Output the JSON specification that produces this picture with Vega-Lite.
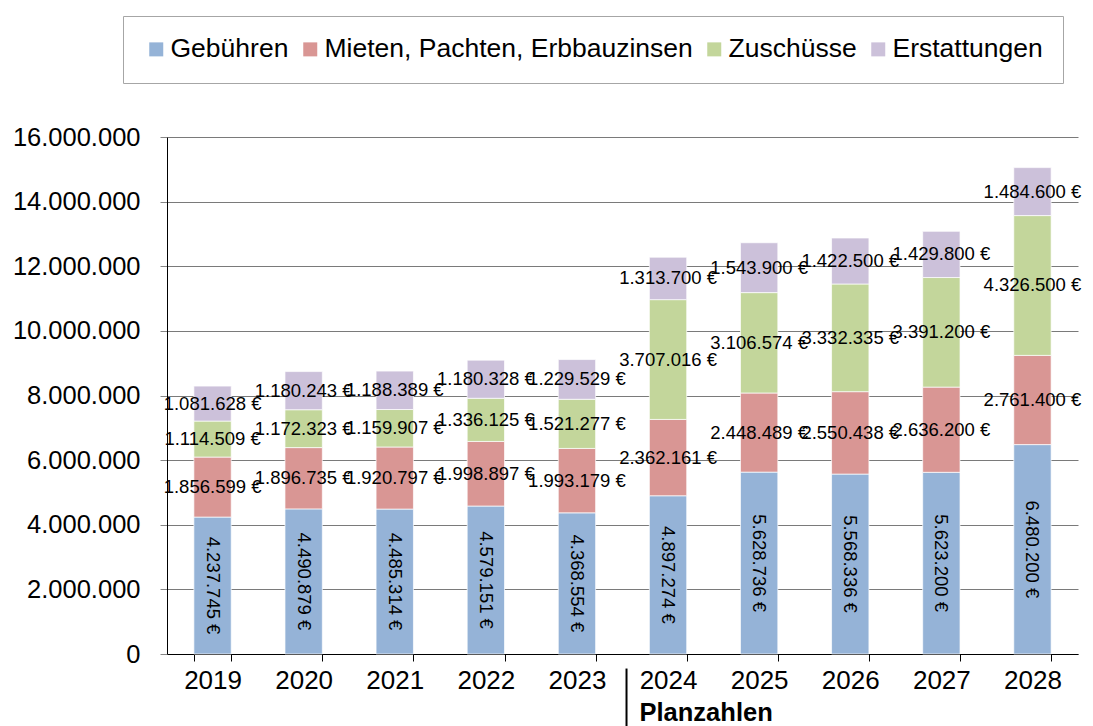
{
  "$schema": "https://vega.github.io/schema/vega-lite/v6.json",
  "width": 911,
  "height": 517,
  "autosize": {"type": "none"},
  "padding": {"left": 167, "top": 137, "right": 15, "bottom": 72},
  "background": "white",
  "config": {
    "locale": {"number": {"decimal": ",", "thousands": ".", "grouping": [3], "currency": ["", " €"]}},
    "font": "Liberation Sans",
    "view": {"stroke": null}
  },
  "data": {
    "values": [
      {"year": "2019", "category": "Gebühren", "value": 4237745},
      {"year": "2019", "category": "Mieten, Pachten, Erbbauzinsen", "value": 1856599},
      {"year": "2019", "category": "Zuschüsse", "value": 1114509},
      {"year": "2019", "category": "Erstattungen", "value": 1081628},
      {"year": "2020", "category": "Gebühren", "value": 4490879},
      {"year": "2020", "category": "Mieten, Pachten, Erbbauzinsen", "value": 1896735},
      {"year": "2020", "category": "Zuschüsse", "value": 1172323},
      {"year": "2020", "category": "Erstattungen", "value": 1180243},
      {"year": "2021", "category": "Gebühren", "value": 4485314},
      {"year": "2021", "category": "Mieten, Pachten, Erbbauzinsen", "value": 1920797},
      {"year": "2021", "category": "Zuschüsse", "value": 1159907},
      {"year": "2021", "category": "Erstattungen", "value": 1188389},
      {"year": "2022", "category": "Gebühren", "value": 4579151},
      {"year": "2022", "category": "Mieten, Pachten, Erbbauzinsen", "value": 1998897},
      {"year": "2022", "category": "Zuschüsse", "value": 1336125},
      {"year": "2022", "category": "Erstattungen", "value": 1180328},
      {"year": "2023", "category": "Gebühren", "value": 4368554},
      {"year": "2023", "category": "Mieten, Pachten, Erbbauzinsen", "value": 1993179},
      {"year": "2023", "category": "Zuschüsse", "value": 1521277},
      {"year": "2023", "category": "Erstattungen", "value": 1229529},
      {"year": "2024", "category": "Gebühren", "value": 4897274},
      {"year": "2024", "category": "Mieten, Pachten, Erbbauzinsen", "value": 2362161},
      {"year": "2024", "category": "Zuschüsse", "value": 3707016},
      {"year": "2024", "category": "Erstattungen", "value": 1313700},
      {"year": "2025", "category": "Gebühren", "value": 5628736},
      {"year": "2025", "category": "Mieten, Pachten, Erbbauzinsen", "value": 2448489},
      {"year": "2025", "category": "Zuschüsse", "value": 3106574},
      {"year": "2025", "category": "Erstattungen", "value": 1543900},
      {"year": "2026", "category": "Gebühren", "value": 5568336},
      {"year": "2026", "category": "Mieten, Pachten, Erbbauzinsen", "value": 2550438},
      {"year": "2026", "category": "Zuschüsse", "value": 3332335},
      {"year": "2026", "category": "Erstattungen", "value": 1422500},
      {"year": "2027", "category": "Gebühren", "value": 5623200},
      {"year": "2027", "category": "Mieten, Pachten, Erbbauzinsen", "value": 2636200},
      {"year": "2027", "category": "Zuschüsse", "value": 3391200},
      {"year": "2027", "category": "Erstattungen", "value": 1429800},
      {"year": "2028", "category": "Gebühren", "value": 6480200},
      {"year": "2028", "category": "Mieten, Pachten, Erbbauzinsen", "value": 2761400},
      {"year": "2028", "category": "Zuschüsse", "value": 4326500},
      {"year": "2028", "category": "Erstattungen", "value": 1484600}
    ]
  },
  "transform": [
    {"calculate": "indexof(['Gebühren','Mieten, Pachten, Erbbauzinsen','Zuschüsse','Erstattungen'], datum.category)", "as": "ord"},
    {"stack": "value", "groupby": ["year"], "sort": [{"field": "ord", "order": "ascending"}], "as": ["v0", "v1"]},
    {"calculate": "(datum.v0 + datum.v1) / 2", "as": "mid"}
  ],
  "encoding": {
    "x": {
      "field": "year",
      "type": "ordinal",
      "scale": {"paddingInner": 0.59, "paddingOuter": 0.295},
      "axis": {
        "title": null,
        "labelAngle": 0,
        "labelFontSize": 26,
        "labelColor": "black",
        "labelPadding": 6,
        "tickBand": "extent",
        "tickSize": 7,
        "tickColor": "black",
        "domainColor": "black",
        "domainWidth": 1,
        "grid": false
      }
    }
  },
  "layer": [
    {
      "mark": {"type": "bar", "stroke": "white", "strokeWidth": 0.7},
      "encoding": {
        "y": {
          "field": "v0",
          "type": "quantitative",
          "scale": {"domain": [0, 16000000], "nice": false},
          "axis": {
            "title": null,
            "values": [0, 2000000, 4000000, 6000000, 8000000, 10000000, 12000000, 14000000, 16000000],
            "format": ",d",
            "labelFontSize": 25.5,
            "labelColor": "black",
            "labelPadding": 20,
            "tickSize": 7,
            "tickColor": "#868686",
            "domainColor": "black",
            "grid": true,
            "gridColor": "#7a7a7a",
            "gridWidth": 1
          }
        },
        "y2": {"field": "v1"},
        "color": {
          "field": "category",
          "type": "nominal",
          "scale": {
            "domain": ["Gebühren", "Mieten, Pachten, Erbbauzinsen", "Zuschüsse", "Erstattungen"],
            "range": ["#95B3D7", "#D99694", "#C3D69B", "#CCC1DA"]
          },
          "legend": {
            "title": null,
            "orient": "none",
            "direction": "horizontal",
            "legendX": -44,
            "legendY": -121,
            "padding": 20,
            "strokeColor": "#a6a6a6",
            "fillColor": "white",
            "symbolType": "square",
            "symbolSize": 196,
            "symbolStrokeWidth": 0,
            "symbolOpacity": 1,
            "labelFontSize": 26.5,
            "labelColor": "black",
            "labelOffset": 1,
            "columnPadding": 8,
            "labelLimit": 500
          }
        }
      }
    },
    {
      "transform": [{"filter": "datum.category !== 'Gebühren'"}],
      "mark": {"type": "text", "fontSize": 18.5, "color": "black", "baseline": "middle", "align": "center"},
      "encoding": {
        "y": {"field": "mid", "type": "quantitative"},
        "text": {"field": "value", "type": "quantitative", "format": "$,.0f"}
      }
    },
    {
      "transform": [{"filter": "datum.category === 'Gebühren'"}],
      "mark": {"type": "text", "fontSize": 18.5, "color": "black", "baseline": "middle", "align": "center", "angle": 90},
      "encoding": {
        "y": {"field": "mid", "type": "quantitative"},
        "text": {"field": "value", "type": "quantitative", "format": "$,.0f"}
      }
    },
    {
      "data": {"values": [{}]},
      "mark": {"type": "rule", "color": "black", "strokeWidth": 2},
      "encoding": {
        "x": {"datum": "2024", "type": "ordinal", "bandPosition": -0.612},
        "y": {"datum": -450000, "type": "quantitative"},
        "y2": {"datum": -2400000}
      }
    },
    {
      "data": {"values": [{}]},
      "mark": {"type": "text", "text": "Planzahlen", "fontSize": 25.5, "fontWeight": "bold", "align": "left", "baseline": "middle", "dx": 13, "color": "black"},
      "encoding": {
        "x": {"datum": "2024", "type": "ordinal", "bandPosition": -0.612},
        "y": {"datum": -1830000, "type": "quantitative"}
      }
    }
  ]
}
